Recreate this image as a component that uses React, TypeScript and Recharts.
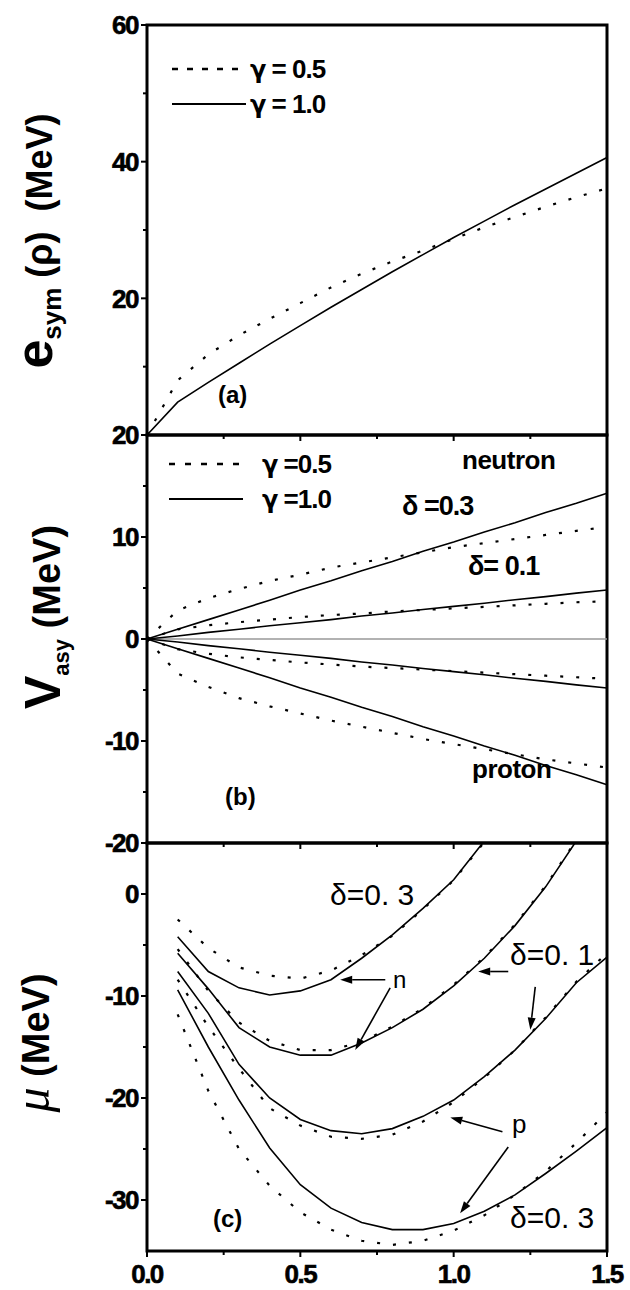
import { Line, LineChart, ReferenceArea, ReferenceLine, XAxis, YAxis } from 'recharts'

const FONT = '"Liberation Sans", Arial, Helvetica, sans-serif'
const GREEK = '"DejaVu Sans", "Liberation Sans", sans-serif'

// shared x: rho / rho0
const rho = [0, 0.1, 0.2, 0.3, 0.4, 0.5, 0.6, 0.7, 0.8, 0.9, 1.0, 1.1, 1.2, 1.3, 1.4, 1.5]
const xTicks = [0, 0.25, 0.5, 0.75, 1, 1.25, 1.5]
const xLabelsC = [0, 0.5, 1, 1.5]

// (a) symmetry energy
const esymSoft = [0, 8.0, 11.8, 14.6, 17.0, 19.3, 21.6, 23.6, 25.4, 27.0, 28.7, 30.4, 31.9, 33.4, 34.8, 36.1]
const esymStiff = [0, 4.8, 7.7, 10.5, 13.3, 16.0, 18.7, 21.3, 23.9, 26.4, 28.9, 31.3, 33.7, 36.0, 38.3, 40.6]
const yTicksA = [0, 10, 20, 30, 40, 50, 60]
const yLabelsA = [20, 40, 60]

// (b) asymmetric potential, neutron (+) and proton (-)
const vN03Soft = [0, 2.8, 4.0, 4.9, 5.7, 6.3, 7.0, 7.5, 8.0, 8.5, 9.0, 9.4, 9.8, 10.2, 10.6, 11.0]
const vN03Stiff = [0, 0.95, 1.9, 2.85, 3.8, 4.8, 5.7, 6.7, 7.6, 8.6, 9.5, 10.5, 11.4, 12.4, 13.3, 14.3]
const vN01Soft = [0, 0.95, 1.35, 1.65, 1.9, 2.15, 2.35, 2.5, 2.7, 2.85, 3.0, 3.15, 3.3, 3.45, 3.6, 3.7]
const vN01Stiff = [0, 0.3, 0.65, 0.95, 1.3, 1.6, 1.9, 2.25, 2.55, 2.9, 3.2, 3.5, 3.85, 4.15, 4.5, 4.8]
const vP01Soft = [0, -1.0, -1.45, -1.8, -2.05, -2.3, -2.5, -2.7, -2.85, -3.0, -3.15, -3.3, -3.45, -3.6, -3.75, -3.9]
const vP01Stiff = [0, -0.3, -0.65, -0.95, -1.3, -1.6, -1.9, -2.25, -2.55, -2.9, -3.2, -3.5, -3.85, -4.15, -4.5, -4.8]
const vP03Soft = [0, -3.4, -4.7, -5.8, -6.6, -7.3, -8.0, -8.6, -9.2, -9.8, -10.3, -10.8, -11.3, -11.8, -12.2, -12.6]
const vP03Stiff = [0, -0.95, -1.9, -2.85, -3.8, -4.8, -5.7, -6.7, -7.6, -8.6, -9.5, -10.5, -11.4, -12.4, -13.3, -14.3]
const yTicksB = [-20, -15, -10, -5, 0, 5, 10, 15, 20]
const yLabelsB = [-20, -10, 0, 10, 20]

// (c) chemical potential
const muN03Soft = [null, -2.5, -5.3, -7.2, -8.0, -8.3, -7.5, -6.0, -4.1, -1.5, 1.35, 5.1, null, null, null, null]
const muN03Stiff = [null, -4.2, -7.6, -9.2, -9.9, -9.5, -8.4, -6.3, -4.0, -1.4, 1.4, 5.2, null, null, null, null]
const muN01Soft = [null, -5.4, -9.5, -12.6, -14.4, -15.3, -15.3, -14.5, -13.0, -11.2, -8.9, -6.2, -3.0, 0.8, 5.3, null]
const muN01Stiff = [null, -5.8, -9.3, -13.1, -15.0, -15.8, -15.8, -14.6, -13.1, -11.3, -9.0, -6.3, -3.1, 0.7, 5.2, null]
const muP01Soft = [null, -8.4, -13.0, -17.1, -21.0, -22.7, -23.8, -24.0, -23.6, -22.3, -20.4, -18.0, -15.3, -12.1, -8.6, -5.8]
const muP01Stiff = [null, -7.6, -11.7, -16.7, -20.0, -22.1, -23.2, -23.5, -23.0, -21.8, -20.2, -17.9, -15.3, -12.2, -8.7, -6.2]
const muP03Soft = [null, -11.8, -19.3, -25.0, -28.6, -31.2, -32.9, -34.0, -34.4, -34.0, -33.0, -31.5, -29.5, -27.2, -24.4, -21.4]
const muP03Stiff = [null, -9.4, -15.0, -20.2, -24.9, -28.5, -30.8, -32.2, -32.9, -32.9, -32.3, -31.1, -29.5, -27.4, -25.2, -22.9]
const yTicksC = [-30, -25, -20, -15, -10, -5, 0]
const yLabelsC = [-30, -20, -10, 0]

// annotation arrows in (c), tail -> tip, data units
const arrowsC = [
  { x1: 0.777, y1: -8.4, x2: 0.63, y2: -8.4 },
  { x1: 0.793, y1: -9.2, x2: 0.679, y2: -15.3 },
  { x1: 1.178, y1: -7.6, x2: 1.08, y2: -7.6 },
  { x1: 1.266, y1: -9.1, x2: 1.25, y2: -13.3 },
  { x1: 1.159, y1: -23.3, x2: 0.989, y2: -21.9 },
  { x1: 1.178, y1: -24.8, x2: 1.021, y2: -31.3 },
]

type Series = { key: string; values: (number | null)[]; dotted: boolean }

const heavy = { stroke: '#000', strokeWidth: 0.6, letterSpacing: '-1.5px' }

function renderYTick(p: any, step: number, labels: number[]) {
  const v = p.payload.value
  const major = Math.abs(v % step) < 1e-9
  const len = major ? 6 : 4
  return (
    <g>
      <line x1={p.x} x2={p.x - len} y1={p.y} y2={p.y} stroke='#000' strokeWidth={2} />
      {labels.includes(v) && (
        <text x={p.x - 9} y={p.y} dy='0.36em' textAnchor='end' fontFamily={FONT} fontWeight='bold' fontSize={26} fill='#000' style={heavy}>
          {v}
        </text>
      )}
    </g>
  )
}

function renderXTick(p: any, labels: number[]) {
  const v = p.payload.value
  const major = Math.abs((v * 2) % 1) < 1e-9
  const len = major ? 6 : 4
  return (
    <g>
      <line x1={p.x} x2={p.x} y1={p.y} y2={p.y + len} stroke='#000' strokeWidth={2} />
      {labels.includes(v) && (
        <text x={p.x} y={p.y + 32} textAnchor='middle' fontFamily={FONT} fontWeight='bold' fontSize={26} fill='#000' style={heavy}>
          {v.toFixed(1)}
        </text>
      )}
    </g>
  )
}

function arrowShape(p: any) {
  const { x1, y1, x2, y2 } = p
  const a = Math.atan2(y2 - y1, x2 - x1)
  const L = 12
  const W = 4
  const bx = x2 - L * Math.cos(a)
  const by = y2 - L * Math.sin(a)
  const pts = `${x2},${y2} ${bx + W * Math.sin(a)},${by - W * Math.cos(a)} ${bx - W * Math.sin(a)},${by + W * Math.cos(a)}`
  return (
    <g>
      <line x1={x1} y1={y1} x2={bx} y2={by} stroke='#000' strokeWidth={1.6} />
      <polygon points={pts} fill='#000' />
    </g>
  )
}

function Panel(props: {
  top: number
  height: number
  xAxisHeight: number
  domain: [number, number]
  yTicks: number[]
  yStep: number
  yLabels: number[]
  xLabels: number[]
  series: Series[]
  extra?: any
}) {
  const { top, height, xAxisHeight, domain, yTicks, yStep, yLabels, xLabels, series, extra } = props
  const rows = rho.map((r, i) => {
    const row: Record<string, number | null> = { rho: r }
    series.forEach((s) => (row[s.key] = s.values[i]))
    return row
  })
  return (
    <div style={{ position: 'absolute', left: 0, top }}>
      <LineChart width={630} height={height} data={rows} margin={{ top: 25, right: 23, bottom: 0, left: 0 }}>
        <XAxis
          dataKey='rho'
          type='number'
          domain={[0, 1.5]}
          ticks={xTicks}
          interval={0}
          height={xAxisHeight}
          axisLine={false}
          tickLine={false}
          tickSize={0}
          tickMargin={0}
          tick={(p: any) => renderXTick(p, xLabels)}
        />
        <YAxis
          type='number'
          domain={domain}
          allowDataOverflow
          ticks={yTicks}
          interval={0}
          width={147}
          axisLine={false}
          tickLine={false}
          tickSize={0}
          tickMargin={0}
          tick={(p: any) => renderYTick(p, yStep, yLabels)}
        />
        {extra}
        {series.map((s) => (
          <Line
            key={s.key}
            type='linear'
            dataKey={s.key}
            stroke='#000'
            strokeWidth={s.dotted ? 2.2 : 1.6}
            strokeDasharray={s.dotted ? '3 13' : undefined}
            dot={false}
            activeDot={false}
            isAnimationActive={false}
          />
        ))}
        <ReferenceArea x1={0} x2={1.5} y1={domain[0]} y2={domain[1]} fill='none' stroke='#000' strokeWidth={3} ifOverflow='visible' />
      </LineChart>
    </div>
  )
}

const txt = { fontFamily: FONT, fill: '#000' }

export default function App() {
  return (
    <div style={{ position: 'absolute', left: 0, top: 0, width: 630, height: 1290, background: '#fff' }}>
      <Panel
        top={0}
        height={460}
        xAxisHeight={25}
        domain={[0, 60]}
        yTicks={yTicksA}
        yStep={20}
        yLabels={yLabelsA}
        xLabels={[]}
        series={[
          { key: 'soft', values: esymSoft, dotted: true },
          { key: 'stiff', values: esymStiff, dotted: false },
        ]}
      />
      <Panel
        top={410}
        height={458}
        xAxisHeight={25}
        domain={[-20, 20]}
        yTicks={yTicksB}
        yStep={10}
        yLabels={yLabelsB}
        xLabels={[]}
        extra={<ReferenceLine y={0} stroke='#999' strokeWidth={1.5} />}
        series={[
          { key: 'n03s', values: vN03Soft, dotted: true },
          { key: 'n03h', values: vN03Stiff, dotted: false },
          { key: 'n01s', values: vN01Soft, dotted: true },
          { key: 'n01h', values: vN01Stiff, dotted: false },
          { key: 'p01s', values: vP01Soft, dotted: true },
          { key: 'p01h', values: vP01Stiff, dotted: false },
          { key: 'p03s', values: vP03Soft, dotted: true },
          { key: 'p03h', values: vP03Stiff, dotted: false },
        ]}
      />
      <Panel
        top={818}
        height={472}
        xAxisHeight={39}
        domain={[-35, 5]}
        yTicks={yTicksC}
        yStep={10}
        yLabels={yLabelsC}
        xLabels={xLabelsC}
        extra={arrowsC.map((a, i) => (
          <ReferenceLine
            key={i}
            segment={[
              { x: a.x1, y: a.y1 },
              { x: a.x2, y: a.y2 },
            ]}
            shape={arrowShape}
            ifOverflow='visible'
          />
        ))}
        series={[
          { key: 'n03s', values: muN03Soft, dotted: true },
          { key: 'n03h', values: muN03Stiff, dotted: false },
          { key: 'n01s', values: muN01Soft, dotted: true },
          { key: 'n01h', values: muN01Stiff, dotted: false },
          { key: 'p01s', values: muP01Soft, dotted: true },
          { key: 'p01h', values: muP01Stiff, dotted: false },
          { key: 'p03s', values: muP03Soft, dotted: true },
          { key: 'p03h', values: muP03Stiff, dotted: false },
        ]}
      />

      <svg width={630} height={1290} style={{ position: 'absolute', left: 0, top: 0, pointerEvents: 'none' }}>
        {/* axis titles */}
        <text transform='translate(52,241) rotate(-90)' textAnchor='middle' fontWeight='bold' {...txt} style={{ whiteSpace: 'pre' }}>
          <tspan fontSize={52}>e</tspan>
          <tspan fontSize={26} dy={9}>sym</tspan>
          <tspan fontSize={36} dy={-9}> (ρ)  (MeV)</tspan>
        </text>
        <text transform='translate(60,617) rotate(-90)' textAnchor='middle' fontWeight='bold' {...txt} style={{ whiteSpace: 'pre' }}>
          <tspan fontSize={50}>V</tspan>
          <tspan fontSize={22} dy={9}>asy</tspan>
          <tspan fontSize={38} dy={-9}> (MeV)</tspan>
        </text>
        <text transform='translate(49,1043) rotate(-90)' textAnchor='middle' {...txt} style={{ whiteSpace: 'pre' }}>
          <tspan fontSize={50} fontStyle='italic' fontFamily='"Liberation Serif", serif'>μ</tspan>
          <tspan fontSize={38} fontWeight='bold'> (MeV)</tspan>
        </text>

        {/* legend (a) */}
        <line x1={172} x2={246} y1={69} y2={69} stroke='#000' strokeWidth={2.5} strokeDasharray='6 9' />
        <text x={250} y={78} fontSize={26} fontWeight='bold' {...txt} style={{ letterSpacing: '-1px', whiteSpace: 'pre' }}>
          <tspan fontFamily={GREEK} fontSize={24}>γ</tspan> = 0.5
        </text>
        <line x1={172} x2={246} y1={104} y2={104} stroke='#000' strokeWidth={2} />
        <text x={250} y={113} fontSize={26} fontWeight='bold' {...txt} style={{ letterSpacing: '-1px', whiteSpace: 'pre' }}>
          <tspan fontFamily={GREEK} fontSize={24}>γ</tspan> = 1.0
        </text>
        <text x={218} y={403} fontSize={24} fontWeight='bold' {...txt}>(a)</text>

        {/* legend (b) */}
        <line x1={169} x2={243} y1={464} y2={464} stroke='#000' strokeWidth={2.5} strokeDasharray='6 10' />
        <text x={262} y={473} fontSize={26} fontWeight='bold' {...txt} style={{ letterSpacing: '-1px', whiteSpace: 'pre' }}>
          <tspan fontFamily={GREEK} fontSize={24}>γ</tspan> =0.5
        </text>
        <line x1={169} x2={243} y1={499} y2={499} stroke='#000' strokeWidth={2} />
        <text x={262} y={508} fontSize={26} fontWeight='bold' {...txt} style={{ letterSpacing: '-1px', whiteSpace: 'pre' }}>
          <tspan fontFamily={GREEK} fontSize={24}>γ</tspan> =1.0
        </text>
        <text x={462} y={469} fontSize={26} fontWeight='bold' {...txt} style={{ letterSpacing: '-0.5px' }}>neutron</text>
        <text x={402} y={515} fontSize={27} fontWeight='bold' {...txt} style={{ letterSpacing: '-1px' }}>δ =0.3</text>
        <text x={468} y={575} fontSize={27} fontWeight='bold' {...txt} style={{ letterSpacing: '-1px' }}>δ= 0.1</text>
        <text x={472} y={778} fontSize={26} fontWeight='bold' {...txt} style={{ letterSpacing: '-0.5px' }}>proton</text>
        <text x={225} y={805} fontSize={24} fontWeight='bold' {...txt}>(b)</text>

        {/* labels (c) */}
        <text x={330} y={905} fontSize={30} {...txt} style={{ whiteSpace: 'pre' }}>δ=0. 3</text>
        <text x={510} y={965} fontSize={30} {...txt} style={{ whiteSpace: 'pre' }}>δ=0. 1</text>
        <text x={393} y={988} fontSize={24} {...txt}>n</text>
        <text x={512} y={1133} fontSize={26} {...txt}>p</text>
        <text x={510} y={1228} fontSize={30} {...txt} style={{ whiteSpace: 'pre' }}>δ=0. 3</text>
        <text x={213} y={1227} fontSize={24} fontWeight='bold' {...txt}>(c)</text>
      </svg>
    </div>
  )
}
